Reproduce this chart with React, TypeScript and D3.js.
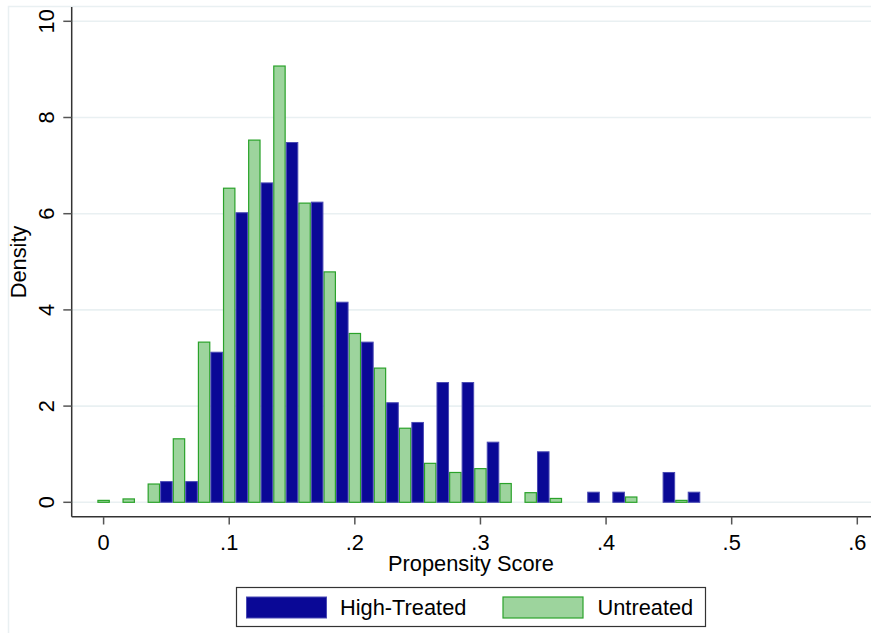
import React from "react";
import * as d3 from "d3";

// Untreated (green) bins centred at even hundredths
const untreatedX = [0.0, 0.02, 0.04, 0.06, 0.08, 0.10, 0.12, 0.14, 0.16, 0.18, 0.20, 0.22, 0.24, 0.26, 0.28, 0.30, 0.32, 0.34, 0.36, 0.42, 0.46];
const untreatedY = [0.04, 0.07, 0.38, 1.32, 3.33, 6.53, 7.53, 9.07, 6.22, 4.79, 3.51, 2.79, 1.54, 0.81, 0.62, 0.70, 0.39, 0.20, 0.08, 0.11, 0.04];

// High-Treated (navy) bins centred at odd hundredths
const treatedX = [0.05, 0.07, 0.09, 0.11, 0.13, 0.15, 0.17, 0.19, 0.21, 0.23, 0.25, 0.27, 0.29, 0.31, 0.35, 0.39, 0.41, 0.45, 0.47];
const treatedY = [0.43, 0.43, 3.12, 6.02, 6.64, 7.48, 6.24, 4.16, 3.33, 2.07, 1.66, 2.49, 2.49, 1.25, 1.05, 0.21, 0.21, 0.62, 0.21];

const xTicks = [0, 0.1, 0.2, 0.3, 0.4, 0.5, 0.6];
const xTickLabels = ["0", ".1", ".2", ".3", ".4", ".5", ".6"];
const yTicks = [0, 2, 4, 6, 8, 10];

const seriesNames = ["High-Treated", "Untreated"];

const NAVY = "#0a0896";
const NAVY_STROKE = "#4a4ab4";
const GREEN = "#9dd49d";
const GREEN_STROKE = "#2aa22a";
const GRID = "#e9f0f2";
const FONT = "'Liberation Sans', Arial, sans-serif";
const FS = 21.8;

export default function App() {
  const W = 871;
  const H = 633;
  const x = d3.scaleLinear().domain([0, 0.6]).range([103.6, 857.3]);
  const y = d3.scaleLinear().domain([0, 10]).range([502.3, 21.3]);
  const axisX = 71.7;
  const axisY = 516.7;
  const binW = 0.01;

  const bw = x(binW) - x(0);

  return (
    <>
      <style>{"body{margin:0}"}</style>
      <svg width={W} height={H} style={{ display: "block", background: "#fff" }} fontFamily={FONT}>
        {/* outer frame */}
        <path d={`M8.5,${H + 5} V6.5 H${W + 5}`} fill="none" stroke={GRID} strokeWidth={1.5} />

        {/* gridlines */}
        {yTicks.map((t) => (
          <line key={"g" + t} x1={axisX} x2={W + 5} y1={y(t)} y2={y(t)} stroke={GRID} strokeWidth={1.6} />
        ))}

        {/* untreated bars */}
        {untreatedX.map((cx, i) => (
          <rect
            key={"u" + i}
            x={x(cx - binW / 2) + 0.6}
            width={bw - 1.2}
            y={y(untreatedY[i])}
            height={y(0) - y(untreatedY[i])}
            fill={GREEN}
            stroke={GREEN_STROKE}
            strokeWidth={1.2}
          />
        ))}
        {/* treated bars */}
        {treatedX.map((cx, i) => (
          <rect
            key={"t" + i}
            x={x(cx - binW / 2) + 0.5}
            width={bw - 1}
            y={y(treatedY[i])}
            height={y(0) - y(treatedY[i])}
            fill={NAVY}
            stroke={NAVY_STROKE}
            strokeWidth={1}
          />
        ))}

        {/* axes */}
        <line x1={axisX} x2={axisX} y1={7} y2={axisY} stroke="#333" strokeWidth={1.5} />
        <line x1={axisX} x2={W + 5} y1={axisY} y2={axisY} stroke="#333" strokeWidth={1.5} />

        {/* y ticks */}
        {yTicks.map((t) => (
          <g key={"yt" + t}>
            <line x1={63.3} x2={axisX} y1={y(t)} y2={y(t)} stroke="#555" strokeWidth={1.5} />
            <text
              transform={`translate(53.5,${y(t)}) rotate(-90)`}
              textAnchor="middle"
              fontSize={FS}
              fill="#000"
            >
              {t}
            </text>
          </g>
        ))}

        {/* x ticks */}
        {xTicks.map((t, i) => (
          <g key={"xt" + t}>
            <line x1={x(t)} x2={x(t)} y1={axisY} y2={524.5} stroke="#555" strokeWidth={1.5} />
            <text x={x(t)} y={550} textAnchor="middle" fontSize={FS} fill="#000">
              {xTickLabels[i]}
            </text>
          </g>
        ))}

        {/* axis titles */}
        <text transform="translate(26,262) rotate(-90)" textAnchor="middle" fontSize={FS} fill="#000">
          Density
        </text>
        <text x={471} y={571} textAnchor="middle" fontSize={FS} fill="#000">
          Propensity Score
        </text>

        {/* legend */}
        <rect x={236.5} y={587.5} width={469} height={39} fill="#fff" stroke="#333" strokeWidth={1.2} />
        <rect x={246.5} y={597} width={80} height={21} fill={NAVY} stroke={NAVY_STROKE} strokeWidth={1} />
        <text x={340} y={615} fontSize={FS} fill="#000">
          {seriesNames[0]}
        </text>
        <rect x={503} y={597} width={80} height={21} fill={GREEN} stroke={GREEN_STROKE} strokeWidth={1.2} />
        <text x={597.5} y={615} fontSize={FS} fill="#000">
          {seriesNames[1]}
        </text>
      </svg>
    </>
  );
}
